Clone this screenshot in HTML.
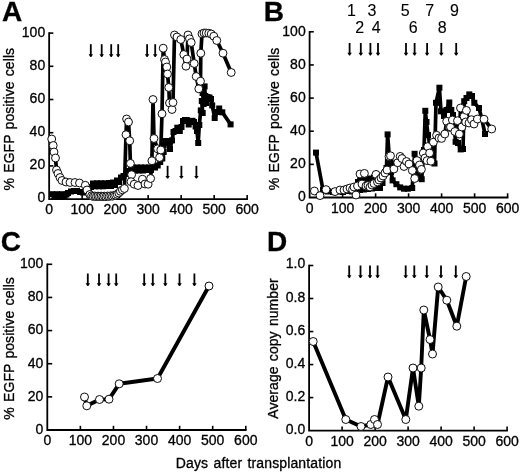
<!DOCTYPE html>
<html><head><meta charset="utf-8"><title>Figure</title>
<style>html,body{margin:0;padding:0;background:#fff;}svg{display:block;will-change:transform;}text{font-family:"Liberation Sans", sans-serif;fill:#000;stroke:#000;stroke-width:0.3px;}.n{stroke-width:0.1px;}.t{word-spacing:1.3px;letter-spacing:0.06px;}</style>
</head><body>
<svg width="520" height="474" viewBox="0 0 520 474">
<rect width="520" height="474" fill="#fff"/>
<text x="2.0" y="20.9" font-size="28" font-weight="bold">A</text>
<text x="263.8" y="20.9" font-size="28" font-weight="bold">B</text>
<text x="0.8" y="250.8" font-size="28" font-weight="bold">C</text>
<text x="266.9" y="251.3" font-size="28" font-weight="bold">D</text>
<path d="M49.15 32.30V199.1H247.95" fill="none" stroke="#000" stroke-width="1.8" stroke-linejoin="miter"/>
<text x="45.2" y="202.4" text-anchor="end" font-size="14">0</text>
<path d="M49.15 165.90h4.2" stroke="#000" stroke-width="1.6"/>
<text x="45.2" y="169.3" text-anchor="end" font-size="14">20</text>
<path d="M49.15 132.70h4.2" stroke="#000" stroke-width="1.6"/>
<text x="45.2" y="136.2" text-anchor="end" font-size="14">40</text>
<path d="M49.15 99.50h4.2" stroke="#000" stroke-width="1.6"/>
<text x="45.2" y="103.2" text-anchor="end" font-size="14">60</text>
<path d="M49.15 66.30h4.2" stroke="#000" stroke-width="1.6"/>
<text x="45.2" y="70.1" text-anchor="end" font-size="14">80</text>
<path d="M49.15 33.10h4.2" stroke="#000" stroke-width="1.6"/>
<text x="45.2" y="37.0" text-anchor="end" font-size="14">100</text>
<text x="49.1" y="214.3" text-anchor="middle" font-size="14">0</text>
<path d="M82.15 199.1v-4.2" stroke="#000" stroke-width="1.6"/>
<text x="82.2" y="214.3" text-anchor="middle" font-size="14">100</text>
<path d="M115.15 199.1v-4.2" stroke="#000" stroke-width="1.6"/>
<text x="115.2" y="214.3" text-anchor="middle" font-size="14">200</text>
<path d="M148.15 199.1v-4.2" stroke="#000" stroke-width="1.6"/>
<text x="148.2" y="214.3" text-anchor="middle" font-size="14">300</text>
<path d="M181.15 199.1v-4.2" stroke="#000" stroke-width="1.6"/>
<text x="181.2" y="214.3" text-anchor="middle" font-size="14">400</text>
<path d="M214.15 199.1v-4.2" stroke="#000" stroke-width="1.6"/>
<text x="214.2" y="214.3" text-anchor="middle" font-size="14">500</text>
<path d="M247.15 199.1v-4.2" stroke="#000" stroke-width="1.6"/>
<text x="247.2" y="214.3" text-anchor="middle" font-size="14">600</text>
<text transform="translate(13.6,190.5) rotate(-90)" font-size="14" class="t">% EGFP positive cells</text>
<polyline points="52.2,194.2 54.5,196.0 57.0,194.2 59.5,196.0 62.0,194.2 64.5,196.0 66.5,194.5 68.0,193.0 71.0,191.5 74.0,191.0 77.0,191.0 80.0,192.0 83.0,192.5 86.0,192.0 89.0,189.0 91.0,187.0 93.0,183.5 95.0,186.3 97.0,183.3 99.0,186.3 101.0,183.3 103.0,186.3 105.0,183.3 107.0,186.0 109.0,183.0 111.0,186.0 113.0,182.5 115.0,185.0 117.0,180.5 119.0,182.0 121.0,177.5 123.5,176.0 126.0,174.0 128.5,171.0 131.0,170.0 133.0,167.5 135.0,170.5 137.0,167.5 139.0,170.5 141.0,167.5 143.0,170.5 145.0,167.5 147.0,170.0 149.0,167.5 151.0,170.0 153.0,167.0 155.0,167.5 157.7,165.5 160.2,162.0 162.3,158.5 163.7,152.0 163.7,145.5 166.0,141.0 168.5,143.0 170.0,149.0 172.0,140.4 173.5,132.0 175.5,131.0 177.3,127.7 179.8,131.0 181.5,127.0 183.0,121.0 185.0,120.0 186.8,120.0 188.7,124.5 190.5,121.0 192.5,120.8 194.0,122.0 195.6,126.5 197.0,131.0 198.2,143.0 199.3,125.0 200.8,110.4 202.7,113.0 201.8,101.0 203.6,104.0 202.6,93.0 204.6,86.4 205.3,96.0 206.3,103.0 207.5,97.0 209.5,97.5 211.0,99.0 212.2,105.4 214.7,118.0 217.0,112.0 219.2,108.5 222.3,112.3 230.6,124.4" fill="none" stroke="#000" stroke-width="3.7" stroke-linejoin="round" stroke-linecap="butt"/>
<rect x="49.2" y="191.2" width="6.0" height="6.0" fill="#000"/>
<rect x="51.5" y="193.0" width="6.0" height="6.0" fill="#000"/>
<rect x="54.0" y="191.2" width="6.0" height="6.0" fill="#000"/>
<rect x="56.5" y="193.0" width="6.0" height="6.0" fill="#000"/>
<rect x="59.0" y="191.2" width="6.0" height="6.0" fill="#000"/>
<rect x="61.5" y="193.0" width="6.0" height="6.0" fill="#000"/>
<rect x="63.5" y="191.5" width="6.0" height="6.0" fill="#000"/>
<rect x="65.0" y="190.0" width="6.0" height="6.0" fill="#000"/>
<rect x="68.0" y="188.5" width="6.0" height="6.0" fill="#000"/>
<rect x="71.0" y="188.0" width="6.0" height="6.0" fill="#000"/>
<rect x="74.0" y="188.0" width="6.0" height="6.0" fill="#000"/>
<rect x="77.0" y="189.0" width="6.0" height="6.0" fill="#000"/>
<rect x="80.0" y="189.5" width="6.0" height="6.0" fill="#000"/>
<rect x="83.0" y="189.0" width="6.0" height="6.0" fill="#000"/>
<rect x="86.0" y="186.0" width="6.0" height="6.0" fill="#000"/>
<rect x="88.0" y="184.0" width="6.0" height="6.0" fill="#000"/>
<rect x="90.0" y="180.5" width="6.0" height="6.0" fill="#000"/>
<rect x="92.0" y="183.3" width="6.0" height="6.0" fill="#000"/>
<rect x="94.0" y="180.3" width="6.0" height="6.0" fill="#000"/>
<rect x="96.0" y="183.3" width="6.0" height="6.0" fill="#000"/>
<rect x="98.0" y="180.3" width="6.0" height="6.0" fill="#000"/>
<rect x="100.0" y="183.3" width="6.0" height="6.0" fill="#000"/>
<rect x="102.0" y="180.3" width="6.0" height="6.0" fill="#000"/>
<rect x="104.0" y="183.0" width="6.0" height="6.0" fill="#000"/>
<rect x="106.0" y="180.0" width="6.0" height="6.0" fill="#000"/>
<rect x="108.0" y="183.0" width="6.0" height="6.0" fill="#000"/>
<rect x="110.0" y="179.5" width="6.0" height="6.0" fill="#000"/>
<rect x="112.0" y="182.0" width="6.0" height="6.0" fill="#000"/>
<rect x="114.0" y="177.5" width="6.0" height="6.0" fill="#000"/>
<rect x="116.0" y="179.0" width="6.0" height="6.0" fill="#000"/>
<rect x="118.0" y="174.5" width="6.0" height="6.0" fill="#000"/>
<rect x="120.5" y="173.0" width="6.0" height="6.0" fill="#000"/>
<rect x="123.0" y="171.0" width="6.0" height="6.0" fill="#000"/>
<rect x="125.5" y="168.0" width="6.0" height="6.0" fill="#000"/>
<rect x="128.0" y="167.0" width="6.0" height="6.0" fill="#000"/>
<rect x="130.0" y="164.5" width="6.0" height="6.0" fill="#000"/>
<rect x="132.0" y="167.5" width="6.0" height="6.0" fill="#000"/>
<rect x="134.0" y="164.5" width="6.0" height="6.0" fill="#000"/>
<rect x="136.0" y="167.5" width="6.0" height="6.0" fill="#000"/>
<rect x="138.0" y="164.5" width="6.0" height="6.0" fill="#000"/>
<rect x="140.0" y="167.5" width="6.0" height="6.0" fill="#000"/>
<rect x="142.0" y="164.5" width="6.0" height="6.0" fill="#000"/>
<rect x="144.0" y="167.0" width="6.0" height="6.0" fill="#000"/>
<rect x="146.0" y="164.5" width="6.0" height="6.0" fill="#000"/>
<rect x="148.0" y="167.0" width="6.0" height="6.0" fill="#000"/>
<rect x="150.0" y="164.0" width="6.0" height="6.0" fill="#000"/>
<rect x="152.0" y="164.5" width="6.0" height="6.0" fill="#000"/>
<rect x="154.7" y="162.5" width="6.0" height="6.0" fill="#000"/>
<rect x="157.2" y="159.0" width="6.0" height="6.0" fill="#000"/>
<rect x="159.3" y="155.5" width="6.0" height="6.0" fill="#000"/>
<rect x="160.7" y="149.0" width="6.0" height="6.0" fill="#000"/>
<rect x="160.7" y="142.5" width="6.0" height="6.0" fill="#000"/>
<rect x="163.0" y="138.0" width="6.0" height="6.0" fill="#000"/>
<rect x="165.5" y="140.0" width="6.0" height="6.0" fill="#000"/>
<rect x="167.0" y="146.0" width="6.0" height="6.0" fill="#000"/>
<rect x="169.0" y="137.4" width="6.0" height="6.0" fill="#000"/>
<rect x="170.5" y="129.0" width="6.0" height="6.0" fill="#000"/>
<rect x="172.5" y="128.0" width="6.0" height="6.0" fill="#000"/>
<rect x="174.3" y="124.7" width="6.0" height="6.0" fill="#000"/>
<rect x="176.8" y="128.0" width="6.0" height="6.0" fill="#000"/>
<rect x="178.5" y="124.0" width="6.0" height="6.0" fill="#000"/>
<rect x="180.0" y="118.0" width="6.0" height="6.0" fill="#000"/>
<rect x="182.0" y="117.0" width="6.0" height="6.0" fill="#000"/>
<rect x="183.8" y="117.0" width="6.0" height="6.0" fill="#000"/>
<rect x="185.7" y="121.5" width="6.0" height="6.0" fill="#000"/>
<rect x="187.5" y="118.0" width="6.0" height="6.0" fill="#000"/>
<rect x="189.5" y="117.8" width="6.0" height="6.0" fill="#000"/>
<rect x="191.0" y="119.0" width="6.0" height="6.0" fill="#000"/>
<rect x="192.6" y="123.5" width="6.0" height="6.0" fill="#000"/>
<rect x="194.0" y="128.0" width="6.0" height="6.0" fill="#000"/>
<rect x="195.2" y="140.0" width="6.0" height="6.0" fill="#000"/>
<rect x="196.3" y="122.0" width="6.0" height="6.0" fill="#000"/>
<rect x="197.8" y="107.4" width="6.0" height="6.0" fill="#000"/>
<rect x="199.7" y="110.0" width="6.0" height="6.0" fill="#000"/>
<rect x="198.8" y="98.0" width="6.0" height="6.0" fill="#000"/>
<rect x="200.6" y="101.0" width="6.0" height="6.0" fill="#000"/>
<rect x="199.6" y="90.0" width="6.0" height="6.0" fill="#000"/>
<rect x="201.6" y="83.4" width="6.0" height="6.0" fill="#000"/>
<rect x="202.3" y="93.0" width="6.0" height="6.0" fill="#000"/>
<rect x="203.3" y="100.0" width="6.0" height="6.0" fill="#000"/>
<rect x="204.5" y="94.0" width="6.0" height="6.0" fill="#000"/>
<rect x="206.5" y="94.5" width="6.0" height="6.0" fill="#000"/>
<rect x="208.0" y="96.0" width="6.0" height="6.0" fill="#000"/>
<rect x="209.2" y="102.4" width="6.0" height="6.0" fill="#000"/>
<rect x="211.7" y="115.0" width="6.0" height="6.0" fill="#000"/>
<rect x="214.0" y="109.0" width="6.0" height="6.0" fill="#000"/>
<rect x="216.2" y="105.5" width="6.0" height="6.0" fill="#000"/>
<rect x="219.3" y="109.3" width="6.0" height="6.0" fill="#000"/>
<rect x="227.6" y="121.4" width="6.0" height="6.0" fill="#000"/>
<polyline points="51.7,139.0 53.2,145.5 54.0,152.0 55.5,158.0 56.5,170.0 58.0,173.5 60.0,177.5 62.0,180.5 66.0,182.0 70.0,182.5 75.0,182.5 79.5,183.0 85.3,185.3 87.0,190.0 89.8,194.5 91.6,195.8 93.2,196.4 94.8,196.0 96.4,196.6 98.0,196.1 99.6,196.6 101.2,196.1 102.8,196.6 104.4,196.1 106.0,196.6 107.6,196.0 109.2,196.4 110.8,195.8 112.4,196.2 114.0,195.5 115.6,195.2 117.2,194.3 118.8,193.0 120.4,191.3 122.4,189.8 124.4,188.5 126.0,134.7 126.6,119.0 128.5,122.0 129.7,140.8 130.4,163.4 131.6,174.7 131.0,181.7 134.2,184.2 138.0,185.5 142.4,179.2 145.0,184.0 148.1,184.2 150.6,178.5 151.9,160.8 153.0,99.5 154.0,138.5 157.6,148.8 159.6,157.5 160.8,150.0 162.0,113.8 163.2,48.2 164.5,59.5 165.5,62.0 166.8,67.0 167.5,74.0 168.8,87.5 169.5,103.0 172.0,109.5 173.0,102.5 174.5,35.0 177.0,37.0 180.8,39.5 183.8,54.5 186.0,66.2 187.0,59.0 188.0,35.0 189.5,38.8 191.2,42.5 194.2,63.5 196.2,76.5 198.8,88.8 200.5,81.2 200.8,53.2 202.0,33.8 204.0,33.0 206.2,33.0 208.8,33.2 211.2,34.0 213.8,36.2 216.8,40.5 223.0,53.2 231.2,72.5" fill="none" stroke="#000" stroke-width="3.7" stroke-linejoin="round" stroke-linecap="butt"/>
<circle cx="51.7" cy="139.0" r="3.95" fill="#fff" stroke="#000" stroke-width="0.95"/>
<circle cx="53.2" cy="145.5" r="3.95" fill="#fff" stroke="#000" stroke-width="0.95"/>
<circle cx="54.0" cy="152.0" r="3.95" fill="#fff" stroke="#000" stroke-width="0.95"/>
<circle cx="55.5" cy="158.0" r="3.95" fill="#fff" stroke="#000" stroke-width="0.95"/>
<circle cx="56.5" cy="170.0" r="3.95" fill="#fff" stroke="#000" stroke-width="0.95"/>
<circle cx="58.0" cy="173.5" r="3.95" fill="#fff" stroke="#000" stroke-width="0.95"/>
<circle cx="60.0" cy="177.5" r="3.95" fill="#fff" stroke="#000" stroke-width="0.95"/>
<circle cx="62.0" cy="180.5" r="3.95" fill="#fff" stroke="#000" stroke-width="0.95"/>
<circle cx="66.0" cy="182.0" r="3.95" fill="#fff" stroke="#000" stroke-width="0.95"/>
<circle cx="70.0" cy="182.5" r="3.95" fill="#fff" stroke="#000" stroke-width="0.95"/>
<circle cx="75.0" cy="182.5" r="3.95" fill="#fff" stroke="#000" stroke-width="0.95"/>
<circle cx="79.5" cy="183.0" r="3.95" fill="#fff" stroke="#000" stroke-width="0.95"/>
<circle cx="85.3" cy="185.3" r="3.95" fill="#fff" stroke="#000" stroke-width="0.95"/>
<circle cx="87.0" cy="190.0" r="3.95" fill="#fff" stroke="#000" stroke-width="0.95"/>
<circle cx="89.8" cy="194.5" r="3.95" fill="#fff" stroke="#000" stroke-width="0.95"/>
<circle cx="91.6" cy="195.8" r="3.95" fill="#fff" stroke="#000" stroke-width="0.95"/>
<circle cx="93.2" cy="196.4" r="3.95" fill="#fff" stroke="#000" stroke-width="0.95"/>
<circle cx="94.8" cy="196.0" r="3.95" fill="#fff" stroke="#000" stroke-width="0.95"/>
<circle cx="96.4" cy="196.6" r="3.95" fill="#fff" stroke="#000" stroke-width="0.95"/>
<circle cx="98.0" cy="196.1" r="3.95" fill="#fff" stroke="#000" stroke-width="0.95"/>
<circle cx="99.6" cy="196.6" r="3.95" fill="#fff" stroke="#000" stroke-width="0.95"/>
<circle cx="101.2" cy="196.1" r="3.95" fill="#fff" stroke="#000" stroke-width="0.95"/>
<circle cx="102.8" cy="196.6" r="3.95" fill="#fff" stroke="#000" stroke-width="0.95"/>
<circle cx="104.4" cy="196.1" r="3.95" fill="#fff" stroke="#000" stroke-width="0.95"/>
<circle cx="106.0" cy="196.6" r="3.95" fill="#fff" stroke="#000" stroke-width="0.95"/>
<circle cx="107.6" cy="196.0" r="3.95" fill="#fff" stroke="#000" stroke-width="0.95"/>
<circle cx="109.2" cy="196.4" r="3.95" fill="#fff" stroke="#000" stroke-width="0.95"/>
<circle cx="110.8" cy="195.8" r="3.95" fill="#fff" stroke="#000" stroke-width="0.95"/>
<circle cx="112.4" cy="196.2" r="3.95" fill="#fff" stroke="#000" stroke-width="0.95"/>
<circle cx="114.0" cy="195.5" r="3.95" fill="#fff" stroke="#000" stroke-width="0.95"/>
<circle cx="115.6" cy="195.2" r="3.95" fill="#fff" stroke="#000" stroke-width="0.95"/>
<circle cx="117.2" cy="194.3" r="3.95" fill="#fff" stroke="#000" stroke-width="0.95"/>
<circle cx="118.8" cy="193.0" r="3.95" fill="#fff" stroke="#000" stroke-width="0.95"/>
<circle cx="120.4" cy="191.3" r="3.95" fill="#fff" stroke="#000" stroke-width="0.95"/>
<circle cx="122.4" cy="189.8" r="3.95" fill="#fff" stroke="#000" stroke-width="0.95"/>
<circle cx="124.4" cy="188.5" r="3.95" fill="#fff" stroke="#000" stroke-width="0.95"/>
<circle cx="126.0" cy="134.7" r="3.95" fill="#fff" stroke="#000" stroke-width="0.95"/>
<circle cx="126.6" cy="119.0" r="3.95" fill="#fff" stroke="#000" stroke-width="0.95"/>
<circle cx="128.5" cy="122.0" r="3.95" fill="#fff" stroke="#000" stroke-width="0.95"/>
<circle cx="129.7" cy="140.8" r="3.95" fill="#fff" stroke="#000" stroke-width="0.95"/>
<circle cx="130.4" cy="163.4" r="3.95" fill="#fff" stroke="#000" stroke-width="0.95"/>
<circle cx="131.6" cy="174.7" r="3.95" fill="#fff" stroke="#000" stroke-width="0.95"/>
<circle cx="131.0" cy="181.7" r="3.95" fill="#fff" stroke="#000" stroke-width="0.95"/>
<circle cx="134.2" cy="184.2" r="3.95" fill="#fff" stroke="#000" stroke-width="0.95"/>
<circle cx="138.0" cy="185.5" r="3.95" fill="#fff" stroke="#000" stroke-width="0.95"/>
<circle cx="142.4" cy="179.2" r="3.95" fill="#fff" stroke="#000" stroke-width="0.95"/>
<circle cx="145.0" cy="184.0" r="3.95" fill="#fff" stroke="#000" stroke-width="0.95"/>
<circle cx="148.1" cy="184.2" r="3.95" fill="#fff" stroke="#000" stroke-width="0.95"/>
<circle cx="150.6" cy="178.5" r="3.95" fill="#fff" stroke="#000" stroke-width="0.95"/>
<circle cx="151.9" cy="160.8" r="3.95" fill="#fff" stroke="#000" stroke-width="0.95"/>
<circle cx="153.0" cy="99.5" r="3.95" fill="#fff" stroke="#000" stroke-width="0.95"/>
<circle cx="154.0" cy="138.5" r="3.95" fill="#fff" stroke="#000" stroke-width="0.95"/>
<circle cx="157.6" cy="148.8" r="3.95" fill="#fff" stroke="#000" stroke-width="0.95"/>
<circle cx="159.6" cy="157.5" r="3.95" fill="#fff" stroke="#000" stroke-width="0.95"/>
<circle cx="160.8" cy="150.0" r="3.95" fill="#fff" stroke="#000" stroke-width="0.95"/>
<circle cx="162.0" cy="113.8" r="3.95" fill="#fff" stroke="#000" stroke-width="0.95"/>
<circle cx="163.2" cy="48.2" r="3.95" fill="#fff" stroke="#000" stroke-width="0.95"/>
<circle cx="164.5" cy="59.5" r="3.95" fill="#fff" stroke="#000" stroke-width="0.95"/>
<circle cx="165.5" cy="62.0" r="3.95" fill="#fff" stroke="#000" stroke-width="0.95"/>
<circle cx="166.8" cy="67.0" r="3.95" fill="#fff" stroke="#000" stroke-width="0.95"/>
<circle cx="167.5" cy="74.0" r="3.95" fill="#fff" stroke="#000" stroke-width="0.95"/>
<circle cx="168.8" cy="87.5" r="3.95" fill="#fff" stroke="#000" stroke-width="0.95"/>
<circle cx="169.5" cy="103.0" r="3.95" fill="#fff" stroke="#000" stroke-width="0.95"/>
<circle cx="172.0" cy="109.5" r="3.95" fill="#fff" stroke="#000" stroke-width="0.95"/>
<circle cx="173.0" cy="102.5" r="3.95" fill="#fff" stroke="#000" stroke-width="0.95"/>
<circle cx="174.5" cy="35.0" r="3.95" fill="#fff" stroke="#000" stroke-width="0.95"/>
<circle cx="177.0" cy="37.0" r="3.95" fill="#fff" stroke="#000" stroke-width="0.95"/>
<circle cx="180.8" cy="39.5" r="3.95" fill="#fff" stroke="#000" stroke-width="0.95"/>
<circle cx="183.8" cy="54.5" r="3.95" fill="#fff" stroke="#000" stroke-width="0.95"/>
<circle cx="186.0" cy="66.2" r="3.95" fill="#fff" stroke="#000" stroke-width="0.95"/>
<circle cx="187.0" cy="59.0" r="3.95" fill="#fff" stroke="#000" stroke-width="0.95"/>
<circle cx="188.0" cy="35.0" r="3.95" fill="#fff" stroke="#000" stroke-width="0.95"/>
<circle cx="189.5" cy="38.8" r="3.95" fill="#fff" stroke="#000" stroke-width="0.95"/>
<circle cx="191.2" cy="42.5" r="3.95" fill="#fff" stroke="#000" stroke-width="0.95"/>
<circle cx="194.2" cy="63.5" r="3.95" fill="#fff" stroke="#000" stroke-width="0.95"/>
<circle cx="196.2" cy="76.5" r="3.95" fill="#fff" stroke="#000" stroke-width="0.95"/>
<circle cx="198.8" cy="88.8" r="3.95" fill="#fff" stroke="#000" stroke-width="0.95"/>
<circle cx="200.5" cy="81.2" r="3.95" fill="#fff" stroke="#000" stroke-width="0.95"/>
<circle cx="200.8" cy="53.2" r="3.95" fill="#fff" stroke="#000" stroke-width="0.95"/>
<circle cx="202.0" cy="33.8" r="3.95" fill="#fff" stroke="#000" stroke-width="0.95"/>
<circle cx="204.0" cy="33.0" r="3.95" fill="#fff" stroke="#000" stroke-width="0.95"/>
<circle cx="206.2" cy="33.0" r="3.95" fill="#fff" stroke="#000" stroke-width="0.95"/>
<circle cx="208.8" cy="33.2" r="3.95" fill="#fff" stroke="#000" stroke-width="0.95"/>
<circle cx="211.2" cy="34.0" r="3.95" fill="#fff" stroke="#000" stroke-width="0.95"/>
<circle cx="213.8" cy="36.2" r="3.95" fill="#fff" stroke="#000" stroke-width="0.95"/>
<circle cx="216.8" cy="40.5" r="3.95" fill="#fff" stroke="#000" stroke-width="0.95"/>
<circle cx="223.0" cy="53.2" r="3.95" fill="#fff" stroke="#000" stroke-width="0.95"/>
<circle cx="231.2" cy="72.5" r="3.95" fill="#fff" stroke="#000" stroke-width="0.95"/>
<path d="M90.8 44.2V55.5" stroke="#000" stroke-width="1.8" fill="none"/>
<path d="M88.6 54.3L93.0 54.3L91.3 57.0L90.3 57.0Z" fill="#000"/>
<path d="M101.7 44.2V55.5" stroke="#000" stroke-width="1.8" fill="none"/>
<path d="M99.5 54.3L103.9 54.3L102.2 57.0L101.2 57.0Z" fill="#000"/>
<path d="M111.2 44.2V55.5" stroke="#000" stroke-width="1.8" fill="none"/>
<path d="M109.0 54.3L113.4 54.3L111.7 57.0L110.7 57.0Z" fill="#000"/>
<path d="M118.2 44.2V55.5" stroke="#000" stroke-width="1.8" fill="none"/>
<path d="M116.0 54.3L120.4 54.3L118.7 57.0L117.7 57.0Z" fill="#000"/>
<path d="M147.1 44.2V55.5" stroke="#000" stroke-width="1.8" fill="none"/>
<path d="M144.9 54.3L149.3 54.3L147.6 57.0L146.6 57.0Z" fill="#000"/>
<path d="M155.2 44.2V55.5" stroke="#000" stroke-width="1.8" fill="none"/>
<path d="M153.0 54.3L157.4 54.3L155.7 57.0L154.7 57.0Z" fill="#000"/>
<path d="M167.6 165.8V177.1" stroke="#000" stroke-width="1.8" fill="none"/>
<path d="M165.4 175.9L169.8 175.9L168.1 178.6L167.1 178.6Z" fill="#000"/>
<path d="M181.4 165.8V177.1" stroke="#000" stroke-width="1.8" fill="none"/>
<path d="M179.2 175.9L183.6 175.9L181.9 178.6L180.9 178.6Z" fill="#000"/>
<path d="M196.4 165.8V177.1" stroke="#000" stroke-width="1.8" fill="none"/>
<path d="M194.2 175.9L198.6 175.9L196.9 178.6L195.9 178.6Z" fill="#000"/>
<path d="M309.6 31.00V197.5H508.40" fill="none" stroke="#000" stroke-width="1.8" stroke-linejoin="miter"/>
<text x="305.7" y="201.4" text-anchor="end" font-size="14">0</text>
<path d="M309.6 164.36h4.2" stroke="#000" stroke-width="1.6"/>
<text x="305.7" y="168.3" text-anchor="end" font-size="14">20</text>
<path d="M309.6 131.22h4.2" stroke="#000" stroke-width="1.6"/>
<text x="305.7" y="135.1" text-anchor="end" font-size="14">40</text>
<path d="M309.6 98.08h4.2" stroke="#000" stroke-width="1.6"/>
<text x="305.7" y="102.0" text-anchor="end" font-size="14">60</text>
<path d="M309.6 64.94h4.2" stroke="#000" stroke-width="1.6"/>
<text x="305.7" y="68.8" text-anchor="end" font-size="14">80</text>
<path d="M309.6 31.80h4.2" stroke="#000" stroke-width="1.6"/>
<text x="305.7" y="35.7" text-anchor="end" font-size="14">100</text>
<text x="309.6" y="213.3" text-anchor="middle" font-size="14">0</text>
<path d="M342.60 197.5v-4.2" stroke="#000" stroke-width="1.6"/>
<text x="342.6" y="213.3" text-anchor="middle" font-size="14">100</text>
<path d="M375.60 197.5v-4.2" stroke="#000" stroke-width="1.6"/>
<text x="375.6" y="213.3" text-anchor="middle" font-size="14">200</text>
<path d="M408.60 197.5v-4.2" stroke="#000" stroke-width="1.6"/>
<text x="408.6" y="213.3" text-anchor="middle" font-size="14">300</text>
<path d="M441.60 197.5v-4.2" stroke="#000" stroke-width="1.6"/>
<text x="441.6" y="213.3" text-anchor="middle" font-size="14">400</text>
<path d="M474.60 197.5v-4.2" stroke="#000" stroke-width="1.6"/>
<text x="474.6" y="213.3" text-anchor="middle" font-size="14">500</text>
<path d="M507.60 197.5v-4.2" stroke="#000" stroke-width="1.6"/>
<text x="507.6" y="213.3" text-anchor="middle" font-size="14">600</text>
<text transform="translate(279.2,190.2) rotate(-90)" font-size="14" class="t">% EGFP positive cells</text>
<polyline points="316.0,152.6 323.0,190.0 328.0,191.5 333.0,192.0 338.0,191.5 343.0,192.0 348.0,191.0 352.0,191.5 355.5,190.5 358.0,182.0 360.0,190.0 362.0,180.5 364.0,189.5 366.0,179.5 368.0,189.0 370.0,178.5 372.0,188.5 374.0,177.5 376.0,188.0 378.0,177.0 380.0,188.0 382.5,183.0 385.0,172.0 386.5,168.0 387.6,134.4 389.5,160.0 391.0,172.0 392.6,180.4 396.4,184.2 400.2,187.4 404.0,188.7 407.8,188.7 412.2,188.0 414.6,153.8 417.0,172.0 419.5,178.0 421.7,179.2 424.0,150.0 425.3,110.8 426.5,122.0 428.0,135.0 430.0,146.0 432.5,158.0 434.5,163.5 436.0,102.8 439.4,87.7 441.0,111.3 444.0,116.0 446.5,110.0 449.3,102.5 451.3,110.0 453.0,115.0 455.6,141.8 458.0,143.0 460.7,149.4 463.0,149.0 464.2,101.2 466.5,98.0 469.3,94.4 472.0,96.0 474.3,102.8 479.0,108.0 481.6,118.0 485.0,134.0" fill="none" stroke="#000" stroke-width="3.7" stroke-linejoin="round" stroke-linecap="butt"/>
<rect x="313.0" y="149.6" width="6.0" height="6.0" fill="#000"/>
<rect x="320.0" y="187.0" width="6.0" height="6.0" fill="#000"/>
<rect x="325.0" y="188.5" width="6.0" height="6.0" fill="#000"/>
<rect x="330.0" y="189.0" width="6.0" height="6.0" fill="#000"/>
<rect x="335.0" y="188.5" width="6.0" height="6.0" fill="#000"/>
<rect x="340.0" y="189.0" width="6.0" height="6.0" fill="#000"/>
<rect x="345.0" y="188.0" width="6.0" height="6.0" fill="#000"/>
<rect x="349.0" y="188.5" width="6.0" height="6.0" fill="#000"/>
<rect x="352.5" y="187.5" width="6.0" height="6.0" fill="#000"/>
<rect x="355.0" y="179.0" width="6.0" height="6.0" fill="#000"/>
<rect x="357.0" y="187.0" width="6.0" height="6.0" fill="#000"/>
<rect x="359.0" y="177.5" width="6.0" height="6.0" fill="#000"/>
<rect x="361.0" y="186.5" width="6.0" height="6.0" fill="#000"/>
<rect x="363.0" y="176.5" width="6.0" height="6.0" fill="#000"/>
<rect x="365.0" y="186.0" width="6.0" height="6.0" fill="#000"/>
<rect x="367.0" y="175.5" width="6.0" height="6.0" fill="#000"/>
<rect x="369.0" y="185.5" width="6.0" height="6.0" fill="#000"/>
<rect x="371.0" y="174.5" width="6.0" height="6.0" fill="#000"/>
<rect x="373.0" y="185.0" width="6.0" height="6.0" fill="#000"/>
<rect x="375.0" y="174.0" width="6.0" height="6.0" fill="#000"/>
<rect x="377.0" y="185.0" width="6.0" height="6.0" fill="#000"/>
<rect x="379.5" y="180.0" width="6.0" height="6.0" fill="#000"/>
<rect x="382.0" y="169.0" width="6.0" height="6.0" fill="#000"/>
<rect x="383.5" y="165.0" width="6.0" height="6.0" fill="#000"/>
<rect x="384.6" y="131.4" width="6.0" height="6.0" fill="#000"/>
<rect x="386.5" y="157.0" width="6.0" height="6.0" fill="#000"/>
<rect x="388.0" y="169.0" width="6.0" height="6.0" fill="#000"/>
<rect x="389.6" y="177.4" width="6.0" height="6.0" fill="#000"/>
<rect x="393.4" y="181.2" width="6.0" height="6.0" fill="#000"/>
<rect x="397.2" y="184.4" width="6.0" height="6.0" fill="#000"/>
<rect x="401.0" y="185.7" width="6.0" height="6.0" fill="#000"/>
<rect x="404.8" y="185.7" width="6.0" height="6.0" fill="#000"/>
<rect x="409.2" y="185.0" width="6.0" height="6.0" fill="#000"/>
<rect x="411.6" y="150.8" width="6.0" height="6.0" fill="#000"/>
<rect x="414.0" y="169.0" width="6.0" height="6.0" fill="#000"/>
<rect x="416.5" y="175.0" width="6.0" height="6.0" fill="#000"/>
<rect x="418.7" y="176.2" width="6.0" height="6.0" fill="#000"/>
<rect x="421.0" y="147.0" width="6.0" height="6.0" fill="#000"/>
<rect x="422.3" y="107.8" width="6.0" height="6.0" fill="#000"/>
<rect x="423.5" y="119.0" width="6.0" height="6.0" fill="#000"/>
<rect x="425.0" y="132.0" width="6.0" height="6.0" fill="#000"/>
<rect x="427.0" y="143.0" width="6.0" height="6.0" fill="#000"/>
<rect x="429.5" y="155.0" width="6.0" height="6.0" fill="#000"/>
<rect x="431.5" y="160.5" width="6.0" height="6.0" fill="#000"/>
<rect x="433.0" y="99.8" width="6.0" height="6.0" fill="#000"/>
<rect x="436.4" y="84.7" width="6.0" height="6.0" fill="#000"/>
<rect x="438.0" y="108.3" width="6.0" height="6.0" fill="#000"/>
<rect x="441.0" y="113.0" width="6.0" height="6.0" fill="#000"/>
<rect x="443.5" y="107.0" width="6.0" height="6.0" fill="#000"/>
<rect x="446.3" y="99.5" width="6.0" height="6.0" fill="#000"/>
<rect x="448.3" y="107.0" width="6.0" height="6.0" fill="#000"/>
<rect x="450.0" y="112.0" width="6.0" height="6.0" fill="#000"/>
<rect x="452.6" y="138.8" width="6.0" height="6.0" fill="#000"/>
<rect x="455.0" y="140.0" width="6.0" height="6.0" fill="#000"/>
<rect x="457.7" y="146.4" width="6.0" height="6.0" fill="#000"/>
<rect x="460.0" y="146.0" width="6.0" height="6.0" fill="#000"/>
<rect x="461.2" y="98.2" width="6.0" height="6.0" fill="#000"/>
<rect x="463.5" y="95.0" width="6.0" height="6.0" fill="#000"/>
<rect x="466.3" y="91.4" width="6.0" height="6.0" fill="#000"/>
<rect x="469.0" y="93.0" width="6.0" height="6.0" fill="#000"/>
<rect x="471.3" y="99.8" width="6.0" height="6.0" fill="#000"/>
<rect x="476.0" y="105.0" width="6.0" height="6.0" fill="#000"/>
<rect x="478.6" y="115.0" width="6.0" height="6.0" fill="#000"/>
<rect x="482.0" y="131.0" width="6.0" height="6.0" fill="#000"/>
<polyline points="314.4,191.0 320.0,195.6 326.0,189.6 335.0,191.6 340.0,190.0 344.0,190.0 347.0,189.0 350.0,188.0 352.5,189.5 354.0,187.0 356.0,195.0 357.5,186.0 360.0,174.0 362.0,184.0 364.4,173.4 366.0,186.0 368.0,185.5 370.0,187.0 372.0,185.0 374.0,183.5 376.0,174.4 377.5,182.0 379.0,180.0 381.0,178.0 383.0,176.0 385.0,173.0 387.0,170.0 389.0,156.5 390.5,155.8 393.9,169.0 397.7,162.7 400.2,156.4 402.0,158.5 404.0,166.5 406.5,161.5 409.0,164.0 412.3,170.5 414.7,178.5 417.0,160.6 419.5,165.0 421.4,169.4 423.3,153.0 425.0,158.0 427.1,160.6 427.7,146.6 429.6,153.0 430.9,161.2 433.4,142.2 436.6,135.3 439.0,138.0 441.6,138.4 444.8,134.0 446.7,121.3 449.5,127.3 450.5,127.0 452.4,120.0 454.9,131.5 457.5,120.7 459.4,134.0 460.5,108.0 461.9,127.0 464.0,116.4 465.7,122.0 466.4,110.4 469.0,123.0 471.5,119.7 474.0,124.0 477.4,119.0 484.0,119.2 491.7,129.0" fill="none" stroke="#000" stroke-width="3.7" stroke-linejoin="round" stroke-linecap="butt"/>
<circle cx="314.4" cy="191.0" r="3.95" fill="#fff" stroke="#000" stroke-width="0.95"/>
<circle cx="320.0" cy="195.6" r="3.95" fill="#fff" stroke="#000" stroke-width="0.95"/>
<circle cx="326.0" cy="189.6" r="3.95" fill="#fff" stroke="#000" stroke-width="0.95"/>
<circle cx="335.0" cy="191.6" r="3.95" fill="#fff" stroke="#000" stroke-width="0.95"/>
<circle cx="340.0" cy="190.0" r="3.95" fill="#fff" stroke="#000" stroke-width="0.95"/>
<circle cx="344.0" cy="190.0" r="3.95" fill="#fff" stroke="#000" stroke-width="0.95"/>
<circle cx="347.0" cy="189.0" r="3.95" fill="#fff" stroke="#000" stroke-width="0.95"/>
<circle cx="350.0" cy="188.0" r="3.95" fill="#fff" stroke="#000" stroke-width="0.95"/>
<circle cx="352.5" cy="189.5" r="3.95" fill="#fff" stroke="#000" stroke-width="0.95"/>
<circle cx="354.0" cy="187.0" r="3.95" fill="#fff" stroke="#000" stroke-width="0.95"/>
<circle cx="356.0" cy="195.0" r="3.95" fill="#fff" stroke="#000" stroke-width="0.95"/>
<circle cx="357.5" cy="186.0" r="3.95" fill="#fff" stroke="#000" stroke-width="0.95"/>
<circle cx="360.0" cy="174.0" r="3.95" fill="#fff" stroke="#000" stroke-width="0.95"/>
<circle cx="362.0" cy="184.0" r="3.95" fill="#fff" stroke="#000" stroke-width="0.95"/>
<circle cx="364.4" cy="173.4" r="3.95" fill="#fff" stroke="#000" stroke-width="0.95"/>
<circle cx="366.0" cy="186.0" r="3.95" fill="#fff" stroke="#000" stroke-width="0.95"/>
<circle cx="368.0" cy="185.5" r="3.95" fill="#fff" stroke="#000" stroke-width="0.95"/>
<circle cx="370.0" cy="187.0" r="3.95" fill="#fff" stroke="#000" stroke-width="0.95"/>
<circle cx="372.0" cy="185.0" r="3.95" fill="#fff" stroke="#000" stroke-width="0.95"/>
<circle cx="374.0" cy="183.5" r="3.95" fill="#fff" stroke="#000" stroke-width="0.95"/>
<circle cx="376.0" cy="174.4" r="3.95" fill="#fff" stroke="#000" stroke-width="0.95"/>
<circle cx="377.5" cy="182.0" r="3.95" fill="#fff" stroke="#000" stroke-width="0.95"/>
<circle cx="379.0" cy="180.0" r="3.95" fill="#fff" stroke="#000" stroke-width="0.95"/>
<circle cx="381.0" cy="178.0" r="3.95" fill="#fff" stroke="#000" stroke-width="0.95"/>
<circle cx="383.0" cy="176.0" r="3.95" fill="#fff" stroke="#000" stroke-width="0.95"/>
<circle cx="385.0" cy="173.0" r="3.95" fill="#fff" stroke="#000" stroke-width="0.95"/>
<circle cx="387.0" cy="170.0" r="3.95" fill="#fff" stroke="#000" stroke-width="0.95"/>
<circle cx="389.0" cy="156.5" r="3.95" fill="#fff" stroke="#000" stroke-width="0.95"/>
<circle cx="390.5" cy="155.8" r="3.95" fill="#fff" stroke="#000" stroke-width="0.95"/>
<circle cx="393.9" cy="169.0" r="3.95" fill="#fff" stroke="#000" stroke-width="0.95"/>
<circle cx="397.7" cy="162.7" r="3.95" fill="#fff" stroke="#000" stroke-width="0.95"/>
<circle cx="400.2" cy="156.4" r="3.95" fill="#fff" stroke="#000" stroke-width="0.95"/>
<circle cx="402.0" cy="158.5" r="3.95" fill="#fff" stroke="#000" stroke-width="0.95"/>
<circle cx="404.0" cy="166.5" r="3.95" fill="#fff" stroke="#000" stroke-width="0.95"/>
<circle cx="406.5" cy="161.5" r="3.95" fill="#fff" stroke="#000" stroke-width="0.95"/>
<circle cx="409.0" cy="164.0" r="3.95" fill="#fff" stroke="#000" stroke-width="0.95"/>
<circle cx="412.3" cy="170.5" r="3.95" fill="#fff" stroke="#000" stroke-width="0.95"/>
<circle cx="414.7" cy="178.5" r="3.95" fill="#fff" stroke="#000" stroke-width="0.95"/>
<circle cx="417.0" cy="160.6" r="3.95" fill="#fff" stroke="#000" stroke-width="0.95"/>
<circle cx="419.5" cy="165.0" r="3.95" fill="#fff" stroke="#000" stroke-width="0.95"/>
<circle cx="421.4" cy="169.4" r="3.95" fill="#fff" stroke="#000" stroke-width="0.95"/>
<circle cx="423.3" cy="153.0" r="3.95" fill="#fff" stroke="#000" stroke-width="0.95"/>
<circle cx="425.0" cy="158.0" r="3.95" fill="#fff" stroke="#000" stroke-width="0.95"/>
<circle cx="427.1" cy="160.6" r="3.95" fill="#fff" stroke="#000" stroke-width="0.95"/>
<circle cx="427.7" cy="146.6" r="3.95" fill="#fff" stroke="#000" stroke-width="0.95"/>
<circle cx="429.6" cy="153.0" r="3.95" fill="#fff" stroke="#000" stroke-width="0.95"/>
<circle cx="430.9" cy="161.2" r="3.95" fill="#fff" stroke="#000" stroke-width="0.95"/>
<circle cx="433.4" cy="142.2" r="3.95" fill="#fff" stroke="#000" stroke-width="0.95"/>
<circle cx="436.6" cy="135.3" r="3.95" fill="#fff" stroke="#000" stroke-width="0.95"/>
<circle cx="439.0" cy="138.0" r="3.95" fill="#fff" stroke="#000" stroke-width="0.95"/>
<circle cx="441.6" cy="138.4" r="3.95" fill="#fff" stroke="#000" stroke-width="0.95"/>
<circle cx="444.8" cy="134.0" r="3.95" fill="#fff" stroke="#000" stroke-width="0.95"/>
<circle cx="446.7" cy="121.3" r="3.95" fill="#fff" stroke="#000" stroke-width="0.95"/>
<circle cx="449.5" cy="127.3" r="3.95" fill="#fff" stroke="#000" stroke-width="0.95"/>
<circle cx="450.5" cy="127.0" r="3.95" fill="#fff" stroke="#000" stroke-width="0.95"/>
<circle cx="452.4" cy="120.0" r="3.95" fill="#fff" stroke="#000" stroke-width="0.95"/>
<circle cx="454.9" cy="131.5" r="3.95" fill="#fff" stroke="#000" stroke-width="0.95"/>
<circle cx="457.5" cy="120.7" r="3.95" fill="#fff" stroke="#000" stroke-width="0.95"/>
<circle cx="459.4" cy="134.0" r="3.95" fill="#fff" stroke="#000" stroke-width="0.95"/>
<circle cx="460.5" cy="108.0" r="3.95" fill="#fff" stroke="#000" stroke-width="0.95"/>
<circle cx="461.9" cy="127.0" r="3.95" fill="#fff" stroke="#000" stroke-width="0.95"/>
<circle cx="464.0" cy="116.4" r="3.95" fill="#fff" stroke="#000" stroke-width="0.95"/>
<circle cx="465.7" cy="122.0" r="3.95" fill="#fff" stroke="#000" stroke-width="0.95"/>
<circle cx="466.4" cy="110.4" r="3.95" fill="#fff" stroke="#000" stroke-width="0.95"/>
<circle cx="469.0" cy="123.0" r="3.95" fill="#fff" stroke="#000" stroke-width="0.95"/>
<circle cx="471.5" cy="119.7" r="3.95" fill="#fff" stroke="#000" stroke-width="0.95"/>
<circle cx="474.0" cy="124.0" r="3.95" fill="#fff" stroke="#000" stroke-width="0.95"/>
<circle cx="477.4" cy="119.0" r="3.95" fill="#fff" stroke="#000" stroke-width="0.95"/>
<circle cx="484.0" cy="119.2" r="3.95" fill="#fff" stroke="#000" stroke-width="0.95"/>
<circle cx="491.7" cy="129.0" r="3.95" fill="#fff" stroke="#000" stroke-width="0.95"/>
<path d="M349.6 43.0V54.0" stroke="#000" stroke-width="1.8" fill="none"/>
<path d="M347.4 52.8L351.8 52.8L350.1 55.5L349.1 55.5Z" fill="#000"/>
<path d="M360.8 43.0V54.0" stroke="#000" stroke-width="1.8" fill="none"/>
<path d="M358.6 52.8L363.0 52.8L361.3 55.5L360.3 55.5Z" fill="#000"/>
<path d="M370.4 43.0V54.0" stroke="#000" stroke-width="1.8" fill="none"/>
<path d="M368.2 52.8L372.6 52.8L370.9 55.5L369.9 55.5Z" fill="#000"/>
<path d="M378.0 43.0V54.0" stroke="#000" stroke-width="1.8" fill="none"/>
<path d="M375.8 52.8L380.2 52.8L378.5 55.5L377.5 55.5Z" fill="#000"/>
<path d="M406.0 43.0V54.0" stroke="#000" stroke-width="1.8" fill="none"/>
<path d="M403.8 52.8L408.2 52.8L406.5 55.5L405.5 55.5Z" fill="#000"/>
<path d="M414.6 43.0V54.0" stroke="#000" stroke-width="1.8" fill="none"/>
<path d="M412.4 52.8L416.8 52.8L415.1 55.5L414.1 55.5Z" fill="#000"/>
<path d="M427.1 43.0V54.0" stroke="#000" stroke-width="1.8" fill="none"/>
<path d="M424.9 52.8L429.3 52.8L427.6 55.5L426.6 55.5Z" fill="#000"/>
<path d="M441.3 43.0V54.0" stroke="#000" stroke-width="1.8" fill="none"/>
<path d="M439.1 52.8L443.5 52.8L441.8 55.5L440.8 55.5Z" fill="#000"/>
<path d="M456.2 43.0V54.0" stroke="#000" stroke-width="1.8" fill="none"/>
<path d="M454.0 52.8L458.4 52.8L456.7 55.5L455.7 55.5Z" fill="#000"/>
<text x="351.4" y="15.7" text-anchor="middle" font-size="16" class="n">1</text>
<text x="371.9" y="15.7" text-anchor="middle" font-size="16" class="n">3</text>
<text x="359.6" y="32.5" text-anchor="middle" font-size="16" class="n">2</text>
<text x="376.3" y="32.5" text-anchor="middle" font-size="16" class="n">4</text>
<text x="405.1" y="15.7" text-anchor="middle" font-size="16" class="n">5</text>
<text x="429.7" y="15.7" text-anchor="middle" font-size="16" class="n">7</text>
<text x="454.4" y="15.7" text-anchor="middle" font-size="16" class="n">9</text>
<text x="413.2" y="32.5" text-anchor="middle" font-size="16" class="n">6</text>
<text x="442.1" y="32.5" text-anchor="middle" font-size="16" class="n">8</text>
<path d="M47.3 263.50V430H246.58" fill="none" stroke="#000" stroke-width="1.8" stroke-linejoin="miter"/>
<text x="43.4" y="434.1" text-anchor="end" font-size="14">0</text>
<path d="M47.3 396.86h4.9" stroke="#000" stroke-width="1.6"/>
<text x="43.4" y="400.9" text-anchor="end" font-size="14">20</text>
<path d="M47.3 363.72h4.9" stroke="#000" stroke-width="1.6"/>
<text x="43.4" y="367.7" text-anchor="end" font-size="14">40</text>
<path d="M47.3 330.58h4.9" stroke="#000" stroke-width="1.6"/>
<text x="43.4" y="334.4" text-anchor="end" font-size="14">60</text>
<path d="M47.3 297.44h4.9" stroke="#000" stroke-width="1.6"/>
<text x="43.4" y="301.2" text-anchor="end" font-size="14">80</text>
<path d="M47.3 264.30h4.9" stroke="#000" stroke-width="1.6"/>
<text x="43.4" y="268.0" text-anchor="end" font-size="14">100</text>
<text x="47.3" y="445.0" text-anchor="middle" font-size="14">0</text>
<path d="M80.38 430v-4.2" stroke="#000" stroke-width="1.6"/>
<text x="80.4" y="445.0" text-anchor="middle" font-size="14">100</text>
<path d="M113.46 430v-4.2" stroke="#000" stroke-width="1.6"/>
<text x="113.5" y="445.0" text-anchor="middle" font-size="14">200</text>
<path d="M146.54 430v-4.2" stroke="#000" stroke-width="1.6"/>
<text x="146.5" y="445.0" text-anchor="middle" font-size="14">300</text>
<path d="M179.62 430v-4.2" stroke="#000" stroke-width="1.6"/>
<text x="179.6" y="445.0" text-anchor="middle" font-size="14">400</text>
<path d="M212.70 430v-4.2" stroke="#000" stroke-width="1.6"/>
<text x="212.7" y="445.0" text-anchor="middle" font-size="14">500</text>
<path d="M245.78 430v-4.2" stroke="#000" stroke-width="1.6"/>
<text x="245.8" y="445.0" text-anchor="middle" font-size="14">600</text>
<text transform="translate(13.5,419.7) rotate(-90)" font-size="14" class="t">% EGFP positive cells</text>
<polyline points="84.5,397.0 86.8,405.8 99.5,399.5 109.0,399.2 119.2,383.8 157.5,378.5 209.0,286.0" fill="none" stroke="#000" stroke-width="3.9" stroke-linejoin="round" stroke-linecap="butt"/>
<circle cx="84.5" cy="397.0" r="4.0" fill="#fff" stroke="#000" stroke-width="0.95"/>
<circle cx="86.8" cy="405.8" r="4.0" fill="#fff" stroke="#000" stroke-width="0.95"/>
<circle cx="99.5" cy="399.5" r="4.0" fill="#fff" stroke="#000" stroke-width="0.95"/>
<circle cx="109.0" cy="399.2" r="4.0" fill="#fff" stroke="#000" stroke-width="0.95"/>
<circle cx="119.2" cy="383.8" r="4.0" fill="#fff" stroke="#000" stroke-width="0.95"/>
<circle cx="157.5" cy="378.5" r="4.0" fill="#fff" stroke="#000" stroke-width="0.95"/>
<circle cx="209.0" cy="286.0" r="4.0" fill="#fff" stroke="#000" stroke-width="0.95"/>
<path d="M87.8 273.5V284.5" stroke="#000" stroke-width="1.8" fill="none"/>
<path d="M85.6 283.3L90.0 283.3L88.3 286.0L87.3 286.0Z" fill="#000"/>
<path d="M99.0 273.5V284.5" stroke="#000" stroke-width="1.8" fill="none"/>
<path d="M96.8 283.3L101.2 283.3L99.5 286.0L98.5 286.0Z" fill="#000"/>
<path d="M108.6 273.5V284.5" stroke="#000" stroke-width="1.8" fill="none"/>
<path d="M106.4 283.3L110.8 283.3L109.1 286.0L108.1 286.0Z" fill="#000"/>
<path d="M116.2 273.5V284.5" stroke="#000" stroke-width="1.8" fill="none"/>
<path d="M114.0 283.3L118.4 283.3L116.7 286.0L115.7 286.0Z" fill="#000"/>
<path d="M144.2 273.5V284.5" stroke="#000" stroke-width="1.8" fill="none"/>
<path d="M142.0 283.3L146.4 283.3L144.7 286.0L143.7 286.0Z" fill="#000"/>
<path d="M152.8 273.5V284.5" stroke="#000" stroke-width="1.8" fill="none"/>
<path d="M150.6 283.3L155.0 283.3L153.3 286.0L152.3 286.0Z" fill="#000"/>
<path d="M165.3 273.5V284.5" stroke="#000" stroke-width="1.8" fill="none"/>
<path d="M163.2 283.3L167.5 283.3L165.8 286.0L164.8 286.0Z" fill="#000"/>
<path d="M179.5 273.5V284.5" stroke="#000" stroke-width="1.8" fill="none"/>
<path d="M177.3 283.3L181.7 283.3L180.0 286.0L179.0 286.0Z" fill="#000"/>
<path d="M194.4 273.5V284.5" stroke="#000" stroke-width="1.8" fill="none"/>
<path d="M192.2 283.3L196.6 283.3L194.9 286.0L193.9 286.0Z" fill="#000"/>
<path d="M309.1 264.70V430.6H507.90" fill="none" stroke="#000" stroke-width="1.8" stroke-linejoin="miter"/>
<text x="305.2" y="434.4" text-anchor="end" font-size="14">0.0</text>
<path d="M309.1 397.58h4.2" stroke="#000" stroke-width="1.6"/>
<text x="305.2" y="401.2" text-anchor="end" font-size="14">0.2</text>
<path d="M309.1 364.56h4.2" stroke="#000" stroke-width="1.6"/>
<text x="305.2" y="368.0" text-anchor="end" font-size="14">0.4</text>
<path d="M309.1 331.54h4.2" stroke="#000" stroke-width="1.6"/>
<text x="305.2" y="334.7" text-anchor="end" font-size="14">0.6</text>
<path d="M309.1 298.52h4.2" stroke="#000" stroke-width="1.6"/>
<text x="305.2" y="301.5" text-anchor="end" font-size="14">0.8</text>
<path d="M309.1 265.50h4.2" stroke="#000" stroke-width="1.6"/>
<text x="305.2" y="268.3" text-anchor="end" font-size="14">1.0</text>
<text x="309.1" y="446.4" text-anchor="middle" font-size="14">0</text>
<path d="M342.10 430.6v-4.2" stroke="#000" stroke-width="1.6"/>
<text x="342.1" y="446.4" text-anchor="middle" font-size="14">100</text>
<path d="M375.10 430.6v-4.2" stroke="#000" stroke-width="1.6"/>
<text x="375.1" y="446.4" text-anchor="middle" font-size="14">200</text>
<path d="M408.10 430.6v-4.2" stroke="#000" stroke-width="1.6"/>
<text x="408.1" y="446.4" text-anchor="middle" font-size="14">300</text>
<path d="M441.10 430.6v-4.2" stroke="#000" stroke-width="1.6"/>
<text x="441.1" y="446.4" text-anchor="middle" font-size="14">400</text>
<path d="M474.10 430.6v-4.2" stroke="#000" stroke-width="1.6"/>
<text x="474.1" y="446.4" text-anchor="middle" font-size="14">500</text>
<path d="M507.10 430.6v-4.2" stroke="#000" stroke-width="1.6"/>
<text x="507.1" y="446.4" text-anchor="middle" font-size="14">600</text>
<text transform="translate(278.4,418.7) rotate(-90)" font-size="14" class="t">Average copy number</text>
<polyline points="313.2,341.5 345.8,419.5 361.0,426.5 370.8,424.5 374.5,419.5 377.5,424.5 388.0,377.0 405.8,419.5 413.0,368.0 418.8,406.2 421.2,368.0 423.8,310.0 430.0,339.5 432.5,354.0 438.2,287.0 446.8,300.2 456.8,326.2 466.2,276.5" fill="none" stroke="#000" stroke-width="3.9" stroke-linejoin="round" stroke-linecap="butt"/>
<circle cx="313.2" cy="341.5" r="4.0" fill="#fff" stroke="#000" stroke-width="0.95"/>
<circle cx="345.8" cy="419.5" r="4.0" fill="#fff" stroke="#000" stroke-width="0.95"/>
<circle cx="361.0" cy="426.5" r="4.0" fill="#fff" stroke="#000" stroke-width="0.95"/>
<circle cx="370.8" cy="424.5" r="4.0" fill="#fff" stroke="#000" stroke-width="0.95"/>
<circle cx="374.5" cy="419.5" r="4.0" fill="#fff" stroke="#000" stroke-width="0.95"/>
<circle cx="377.5" cy="424.5" r="4.0" fill="#fff" stroke="#000" stroke-width="0.95"/>
<circle cx="388.0" cy="377.0" r="4.0" fill="#fff" stroke="#000" stroke-width="0.95"/>
<circle cx="405.8" cy="419.5" r="4.0" fill="#fff" stroke="#000" stroke-width="0.95"/>
<circle cx="413.0" cy="368.0" r="4.0" fill="#fff" stroke="#000" stroke-width="0.95"/>
<circle cx="418.8" cy="406.2" r="4.0" fill="#fff" stroke="#000" stroke-width="0.95"/>
<circle cx="421.2" cy="368.0" r="4.0" fill="#fff" stroke="#000" stroke-width="0.95"/>
<circle cx="423.8" cy="310.0" r="4.0" fill="#fff" stroke="#000" stroke-width="0.95"/>
<circle cx="430.0" cy="339.5" r="4.0" fill="#fff" stroke="#000" stroke-width="0.95"/>
<circle cx="432.5" cy="354.0" r="4.0" fill="#fff" stroke="#000" stroke-width="0.95"/>
<circle cx="438.2" cy="287.0" r="4.0" fill="#fff" stroke="#000" stroke-width="0.95"/>
<circle cx="446.8" cy="300.2" r="4.0" fill="#fff" stroke="#000" stroke-width="0.95"/>
<circle cx="456.8" cy="326.2" r="4.0" fill="#fff" stroke="#000" stroke-width="0.95"/>
<circle cx="466.2" cy="276.5" r="4.0" fill="#fff" stroke="#000" stroke-width="0.95"/>
<path d="M349.2 265.5V276.5" stroke="#000" stroke-width="1.8" fill="none"/>
<path d="M347.1 275.3L351.4 275.3L349.8 278.0L348.8 278.0Z" fill="#000"/>
<path d="M360.5 265.5V276.5" stroke="#000" stroke-width="1.8" fill="none"/>
<path d="M358.3 275.3L362.7 275.3L361.0 278.0L360.0 278.0Z" fill="#000"/>
<path d="M370.0 265.5V276.5" stroke="#000" stroke-width="1.8" fill="none"/>
<path d="M367.8 275.3L372.2 275.3L370.5 278.0L369.5 278.0Z" fill="#000"/>
<path d="M377.6 265.5V276.5" stroke="#000" stroke-width="1.8" fill="none"/>
<path d="M375.4 275.3L379.8 275.3L378.1 278.0L377.1 278.0Z" fill="#000"/>
<path d="M405.7 265.5V276.5" stroke="#000" stroke-width="1.8" fill="none"/>
<path d="M403.5 275.3L407.9 275.3L406.2 278.0L405.2 278.0Z" fill="#000"/>
<path d="M414.3 265.5V276.5" stroke="#000" stroke-width="1.8" fill="none"/>
<path d="M412.1 275.3L416.5 275.3L414.8 278.0L413.8 278.0Z" fill="#000"/>
<path d="M426.8 265.5V276.5" stroke="#000" stroke-width="1.8" fill="none"/>
<path d="M424.6 275.3L429.0 275.3L427.3 278.0L426.3 278.0Z" fill="#000"/>
<path d="M441.0 265.5V276.5" stroke="#000" stroke-width="1.8" fill="none"/>
<path d="M438.8 275.3L443.2 275.3L441.5 278.0L440.5 278.0Z" fill="#000"/>
<path d="M455.8 265.5V276.5" stroke="#000" stroke-width="1.8" fill="none"/>
<path d="M453.6 275.3L458.0 275.3L456.3 278.0L455.3 278.0Z" fill="#000"/>
<text x="175.8" y="468.2" font-size="14" class="t" style="letter-spacing:0.13px">Days after transplantation</text>
</svg></body></html>
